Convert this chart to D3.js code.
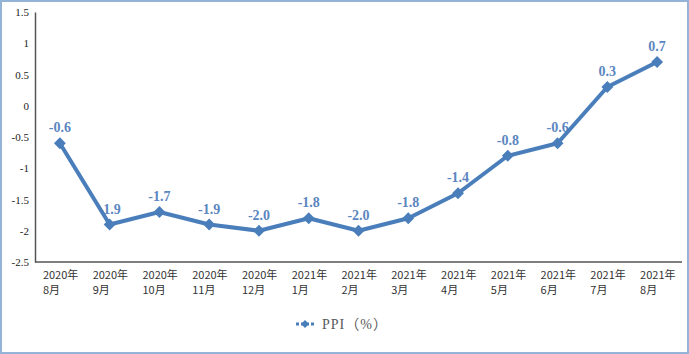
<!DOCTYPE html>
<html>
<head>
<meta charset="utf-8">
<script src="https://cdn.jsdelivr.net/npm/d3@7"></script>
<style>
  body { margin: 0; background: #fff; }
  svg { display: block; outline: 2px solid #95b3d7; outline-offset: -2px; }
</style>
</head>
<body>
<svg width="689" height="354"></svg>
<script>
const months = ["2020年|8月", "2020年|9月", "2020年|10月", "2020年|11月", "2020年|12月",
  "2021年|1月", "2021年|2月", "2021年|3月", "2021年|4月", "2021年|5月",
  "2021年|6月", "2021年|7月", "2021年|8月"];
const ppi = [-0.6, -1.9, -1.7, -1.9, -2.0, -1.8, -2.0, -1.8, -1.4, -0.8, -0.6, 0.3, 0.7];
const yTicks = [1.5, 1, 0.5, 0, -0.5, -1, -1.5, -2, -2.5];
const seriesName = "PPI（%）";

const svg = d3.select("svg");
const width = +svg.attr("width");
const height = +svg.attr("height");
const blue = "#4a7ebb";

const margin = { top: 12, right: 5, bottom: 92, left: 35 };
const innerWidth = width - margin.left - margin.right;
const innerHeight = height - margin.top - margin.bottom;

const xScale = d3.scaleBand()
  .domain(months)
  .range([0, innerWidth - 2]);

const yScale = d3.scaleLinear()
  .domain([-2.5, 1.5])
  .range([innerHeight, 0]);

const g = svg.append("g")
  .attr("transform", `translate(${margin.left}, ${margin.top})`);

// axis lines
const yg = g.append("g").call(d3.axisLeft(yScale).tickValues(yTicks).tickSize(0).tickFormat(""));
yg.select(".domain").attr("stroke", "#555").attr("stroke-width", 1.5);

const xg = g.append("g")
  .attr("transform", `translate(0, ${innerHeight})`)
  .call(d3.axisBottom(xScale).tickSize(0).tickFormat(""));
xg.select(".domain")
  .attr("d", `M0,0H${innerWidth - 2}`)
  .attr("stroke", "#555").attr("stroke-width", 1.5);

// y tick labels
g.selectAll(".ylbl").data(yTicks)
  .enter().append("text")
    .attr("class", "ylbl")
    .attr("x", -6)
    .attr("y", d => yScale(d) + 4)
    .attr("text-anchor", "end")
    .attr("font-family", "'Liberation Serif', 'Times New Roman', serif")
    .attr("font-size", 11)
    .attr("fill", "#222")
    .text(d => String(d));

// two-line category labels
const xLabels = [];
months.forEach(m => m.split("|").forEach((part, k) => xLabels.push({ m, part, k })));
g.selectAll(".xlbl").data(xLabels)
  .enter().append("text")
    .attr("class", "xlbl")
    .attr("x", d => xScale(d.m) + xScale.bandwidth() / 2 - 17)
    .attr("y", d => innerHeight + 17 + d.k * 15)
    .attr("fill", "#333")
    .attr("font-family", "'Noto Sans CJK SC', sans-serif")
    .attr("font-size", 11)
    .text(d => d.part);

const cx = (d, i) => xScale(months[i]) + xScale.bandwidth() / 2;
const cy = d => yScale(d);

// data labels (drawn under the line)
g.selectAll(".lbl").data(ppi)
  .enter().append("text")
    .attr("class", "lbl")
    .attr("x", cx)
    .attr("y", d => cy(d) - 11)
    .attr("text-anchor", "middle")
    .attr("font-family", "'Liberation Serif', 'Times New Roman', serif")
    .attr("font-weight", "bold")
    .attr("font-size", 14)
    .attr("fill", "#5b86bf")
    .text(d => d3.format(".1f")(d).replace("−", "-"));

// line
const line = d3.line()
  .x(cx)
  .y(cy);

g.append("path")
  .datum(ppi)
  .attr("d", line)
  .attr("fill", "none")
  .attr("stroke", blue)
  .attr("stroke-width", 4)
  .attr("stroke-linejoin", "round");

// diamond markers
const diamond = d3.symbol().type(d3.symbolDiamond2).size(90);
g.selectAll(".mk").data(ppi)
  .enter().append("path")
    .attr("class", "mk")
    .attr("d", diamond)
    .attr("transform", (d, i) => `translate(${cx(d, i)}, ${cy(d)})`)
    .attr("fill", blue);

// legend
const lg = svg.append("g").attr("transform", "translate(305, 324)");
lg.append("line")
  .attr("x1", -9).attr("x2", 9)
  .attr("stroke", blue).attr("stroke-width", 3)
  .attr("stroke-dasharray", "3,2");
lg.append("path")
  .attr("d", d3.symbol().type(d3.symbolDiamond2).size(40))
  .attr("fill", blue);
lg.append("text")
  .attr("x", 17)
  .attr("y", 5)
  .attr("font-family", "'Liberation Serif', 'Noto Sans CJK SC', serif")
  .attr("font-size", 14)
  .attr("letter-spacing", 1)
  .attr("fill", "#595959")
  .text(seriesName);
</script>
</body>
</html>
